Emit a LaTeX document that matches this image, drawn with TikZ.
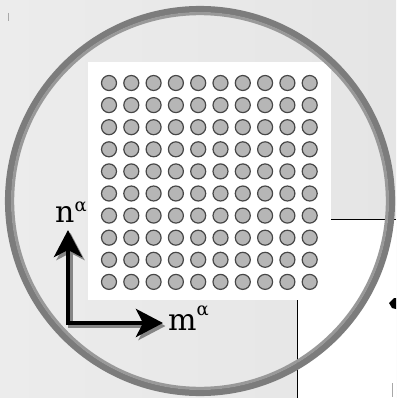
\documentclass[tikz,border=0pt]{standalone}
\usepackage{fontspec}
\setmainfont{DejaVu Serif}
\usetikzlibrary{arrows.meta}
\definecolor{bgA}{HTML}{ECECEC}
\definecolor{bgB}{HTML}{E5E5E5}
\definecolor{ringdark}{HTML}{7C7C7C}
\definecolor{ringlight}{HTML}{999999}
\definecolor{dotfill}{HTML}{B6B6B6}
\definecolor{dotline}{HTML}{474747}
\definecolor{shadowc}{HTML}{858585}
\definecolor{tickc}{HTML}{A8A8A8}
\tikzset{
  dot/.style={circle, draw=dotline, fill=dotfill, line width=1.2pt, minimum size=15pt, inner sep=0pt},
  axis/.style={line width=4.5pt, line join=miter, {Stealth[length=27pt,width=28pt,inset=7pt]}-{Stealth[length=27pt,width=28pt,inset=7pt]}},
  lbl/.style={inner sep=0pt, font=\fontsize{30}{30}\selectfont, anchor=base west},
}
\begin{document}
\begin{tikzpicture}[x=1pt,y=-1pt]
\useasboundingbox (0,0) rectangle (396,398);
\shade[left color=bgA, right color=bgB] (0,0) rectangle (396,398);
% white lower right panel
\fill[white] (297,219) rectangle (396,398);
\draw[black, line width=0.8pt] (396,219) -- (297,219) -- (297,398);
% white square with dots
\fill[white] (88,62) rectangle (331,300);
\foreach \i in {0,...,9} {
  \foreach \j in {0,...,9} {
    \node[dot] (d\i\j) at ({109+22.3*\i},{83+22.1*\j}) {};
  }
}
% ring
\draw[ringdark, line width=6.5pt] (200,201) circle (191.8);
\draw[ringlight, line width=3pt] (200,201) circle (187.3);
% axes
\coordinate (nTip) at (68,230);
\coordinate (corner) at (68,323);
\coordinate (mTip) at (163,323);
\draw[axis, shadowc] ([shift={(2.5,3)}]nTip) -- ([shift={(2.5,3)}]corner) -- ([shift={(2.5,3)}]mTip);
\draw[axis, black] (nTip) -- (corner) -- (mTip);
\node[lbl] (nlab) at (55,222) {n\raisebox{11pt}{\fontsize{18}{18}\selectfont α}};
\node[lbl] (mlab) at (168,330) {m\raisebox{15pt}{\fontsize{18}{18}\selectfont α}};
% partial mark at right edge
\fill[black] (389,303) -- (394,298) -- (396,298) -- (396,309) -- (392,308) -- cycle;
% small ticks
\draw[tickc, line width=1pt] (8,13) -- (8,21);
\draw[tickc, line width=1pt] (392,383) -- (392,397);
\end{tikzpicture}
\end{document}
